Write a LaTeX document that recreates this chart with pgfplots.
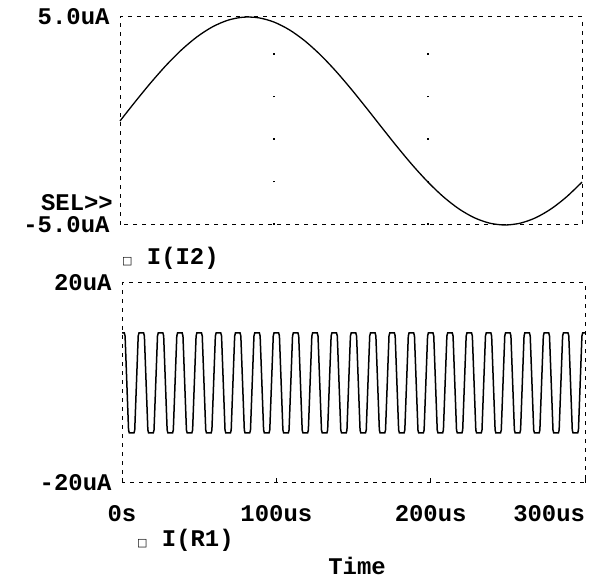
\documentclass[border=0pt]{standalone}
\usepackage{pgfplots}
\pgfplotsset{compat=1.18}
\usepackage{fontspec}
\setmainfont{Liberation Mono}
\newfontfamily\dv{DejaVu Sans}
\newcommand\pf{\fontsize{24}{28}\selectfont\bfseries}
\newcommand\sq{{\dv\fontsize{11}{11}\selectfont □}}
\begin{document}
\begin{tikzpicture}[x=1bp,y=1bp]
\path[use as bounding box] (0,0) rectangle (593,579);
% ---------- top axis: I(I2) ----------
\begin{axis}[at={(120bp,354bp)}, anchor=south west,
  width=462bp, height=208bp, scale only axis,
  xmin=0, xmax=300, ymin=-5, ymax=5,
  axis line style={black, line width=1bp, dash pattern=on 4bp off 5bp},
  xtick={100,200}, xticklabels={}, ytick={-5,5}, yticklabels={-5.0uA,5.0uA},
  major tick length=0pt,
  xmajorgrids,
  major grid style={black, line width=1.6bp, dash pattern=on 1.5bp off 41bp, dash phase=0bp},
  tick label style={font=\pf},
  yticklabel style={xshift=-7bp},
  clip=false]
\addplot[black, line width=1.3bp, smooth] coordinates {
(0,0)(10,0.937)(20,1.840)(30,2.679)(40,3.423)(50,4.045)(60,4.524)(70,4.843)
(80,4.990)(90,4.961)(100,4.755)(110,4.381)(120,3.852)(130,3.187)(140,2.409)
(150,1.545)(160,0.627)(170,-0.314)(180,-1.243)(190,-2.129)(200,-2.939)
(210,-3.645)(220,-4.222)(230,-4.649)(240,-4.911)(250,-5.000)(260,-4.911)
(270,-4.649)(280,-4.222)(290,-3.645)(300,-2.939)};
\end{axis}
% ---------- bottom axis: I(R1) ----------
\begin{axis}[at={(122bp,96bp)}, anchor=south west,
  width=463bp, height=200bp, scale only axis,
  xmin=0, xmax=300, ymin=-20, ymax=20,
  axis line style={black, line width=1bp, dash pattern=on 4bp off 5bp},
  xtick={0,100,200,300},
  xticklabels={0s,100us,200us,{\makebox[0pt][r]{300us}}},
  ytick={-20,20}, yticklabels={-20uA,20uA},
  tick align=inside, xtick pos=bottom,
  major tick length=5bp,
  xtick style={black, line width=1bp},
  ytick style={draw=none},
  tick label style={font=\pf},
  xticklabel style={yshift=-19bp},
  yticklabel style={xshift=-7bp},
  clip=false]
\addplot[black, line width=1.5bp] table[row sep=\\] {
x y\\
0 10\\ 1.5 10\\ 2 9.4\\ 4.25 -9.4\\ 4.75 -10\\ 7.75 -10\\ 8.25 -9.4\\ 10.5 9.4\\ 11 10\\
12.5 10\\ 14 10\\ 14.5 9.4\\ 16.75 -9.4\\ 17.25 -10\\ 20.25 -10\\ 20.75 -9.4\\ 23 9.4\\ 23.5 10\\
25 10\\ 26.5 10\\ 27 9.4\\ 29.25 -9.4\\ 29.75 -10\\ 32.75 -10\\ 33.25 -9.4\\ 35.5 9.4\\ 36 10\\
37.5 10\\ 39 10\\ 39.5 9.4\\ 41.75 -9.4\\ 42.25 -10\\ 45.25 -10\\ 45.75 -9.4\\ 48 9.4\\ 48.5 10\\
50 10\\ 51.5 10\\ 52 9.4\\ 54.25 -9.4\\ 54.75 -10\\ 57.75 -10\\ 58.25 -9.4\\ 60.5 9.4\\ 61 10\\
62.5 10\\ 64 10\\ 64.5 9.4\\ 66.75 -9.4\\ 67.25 -10\\ 70.25 -10\\ 70.75 -9.4\\ 73 9.4\\ 73.5 10\\
75 10\\ 76.5 10\\ 77 9.4\\ 79.25 -9.4\\ 79.75 -10\\ 82.75 -10\\ 83.25 -9.4\\ 85.5 9.4\\ 86 10\\
87.5 10\\ 89 10\\ 89.5 9.4\\ 91.75 -9.4\\ 92.25 -10\\ 95.25 -10\\ 95.75 -9.4\\ 98 9.4\\ 98.5 10\\
100 10\\ 101.5 10\\ 102 9.4\\ 104.25 -9.4\\ 104.75 -10\\ 107.75 -10\\ 108.25 -9.4\\ 110.5 9.4\\ 111 10\\
112.5 10\\ 114 10\\ 114.5 9.4\\ 116.75 -9.4\\ 117.25 -10\\ 120.25 -10\\ 120.75 -9.4\\ 123 9.4\\ 123.5 10\\
125 10\\ 126.5 10\\ 127 9.4\\ 129.25 -9.4\\ 129.75 -10\\ 132.75 -10\\ 133.25 -9.4\\ 135.5 9.4\\ 136 10\\
137.5 10\\ 139 10\\ 139.5 9.4\\ 141.75 -9.4\\ 142.25 -10\\ 145.25 -10\\ 145.75 -9.4\\ 148 9.4\\ 148.5 10\\
150 10\\ 151.5 10\\ 152 9.4\\ 154.25 -9.4\\ 154.75 -10\\ 157.75 -10\\ 158.25 -9.4\\ 160.5 9.4\\ 161 10\\
162.5 10\\ 164 10\\ 164.5 9.4\\ 166.75 -9.4\\ 167.25 -10\\ 170.25 -10\\ 170.75 -9.4\\ 173 9.4\\ 173.5 10\\
175 10\\ 176.5 10\\ 177 9.4\\ 179.25 -9.4\\ 179.75 -10\\ 182.75 -10\\ 183.25 -9.4\\ 185.5 9.4\\ 186 10\\
187.5 10\\ 189 10\\ 189.5 9.4\\ 191.75 -9.4\\ 192.25 -10\\ 195.25 -10\\ 195.75 -9.4\\ 198 9.4\\ 198.5 10\\
200 10\\ 201.5 10\\ 202 9.4\\ 204.25 -9.4\\ 204.75 -10\\ 207.75 -10\\ 208.25 -9.4\\ 210.5 9.4\\ 211 10\\
212.5 10\\ 214 10\\ 214.5 9.4\\ 216.75 -9.4\\ 217.25 -10\\ 220.25 -10\\ 220.75 -9.4\\ 223 9.4\\ 223.5 10\\
225 10\\ 226.5 10\\ 227 9.4\\ 229.25 -9.4\\ 229.75 -10\\ 232.75 -10\\ 233.25 -9.4\\ 235.5 9.4\\ 236 10\\
237.5 10\\ 239 10\\ 239.5 9.4\\ 241.75 -9.4\\ 242.25 -10\\ 245.25 -10\\ 245.75 -9.4\\ 248 9.4\\ 248.5 10\\
250 10\\ 251.5 10\\ 252 9.4\\ 254.25 -9.4\\ 254.75 -10\\ 257.75 -10\\ 258.25 -9.4\\ 260.5 9.4\\ 261 10\\
262.5 10\\ 264 10\\ 264.5 9.4\\ 266.75 -9.4\\ 267.25 -10\\ 270.25 -10\\ 270.75 -9.4\\ 273 9.4\\ 273.5 10\\
275 10\\ 276.5 10\\ 277 9.4\\ 279.25 -9.4\\ 279.75 -10\\ 282.75 -10\\ 283.25 -9.4\\ 285.5 9.4\\ 286 10\\
287.5 10\\ 289 10\\ 289.5 9.4\\ 291.75 -9.4\\ 292.25 -10\\ 295.25 -10\\ 295.75 -9.4\\ 298 9.4\\ 298.5 10\\
300 10\\
};
\end{axis}
% ---------- texts ----------
\node[font=\pf, anchor=east, inner sep=0pt] at (113,376) {SEL>{}>};
\node[font=\pf, anchor=west, inner sep=0pt] at (122,321) {\sq\ I(I2)};
\node[font=\pf, anchor=west, inner sep=0pt] at (137,39) {\sq\ I(R1)};
\node[font=\pf, inner sep=0pt, anchor=south] at (357,4) {Time};
\end{tikzpicture}
\end{document}
